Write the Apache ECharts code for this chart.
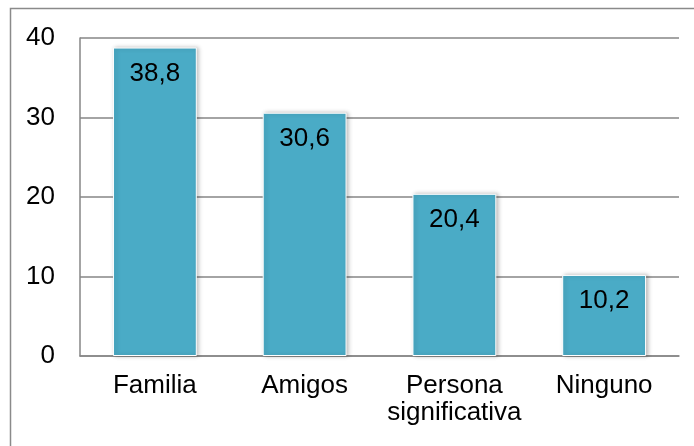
<!DOCTYPE html>
<html>
<head>
<meta charset="utf-8">
<style>
  html, body { margin: 0; padding: 0; background: #fff; }
  #chart { width: 694px; height: 446px; }
</style>
<script src="https://cdn.jsdelivr.net/npm/echarts@6/dist/echarts.min.js"></script>
</head>
<body>
<div id="chart"></div>
<script>
// Categories and percentages
const categories = ['Familia', 'Amigos', 'Persona\nsignificativa', 'Ninguno'];
const values = [38.8, 30.6, 20.4, 10.2];
const yTicks = [0, 10, 20, 30, 40];

const chart = echarts.init(document.getElementById('chart'));
const fontFamily = '"Liberation Sans", Arial, sans-serif';

chart.setOption({
  animation: false,
  backgroundColor: '#ffffff',
  graphic: [{
    type: 'rect',
    shape: { x: 10.5, y: 8.5, width: 700, height: 460 },
    style: { fill: 'none', stroke: '#8a8a8a', lineWidth: 1.5 },
    silent: true
  }],
  grid: { left: 80, right: 15, top: 38, bottom: 90, containLabel: false },
  xAxis: {
    type: 'category',
    data: categories,
    axisLine: { show: true, lineStyle: { color: '#868686', width: 1.5 } },
    axisTick: { show: false },
    axisLabel: {
      interval: 0,
      color: '#000', fontSize: 26, fontFamily: fontFamily,
      margin: 16, lineHeight: 27
    }
  },
  yAxis: {
    type: 'value',
    min: yTicks[0],
    max: yTicks[yTicks.length - 1],
    interval: 10,
    axisLine: { show: true, lineStyle: { color: '#868686', width: 1.5 } },
    axisTick: { show: false },
    splitLine: { show: true, lineStyle: { color: '#868686', width: 1.5 } },
    axisLabel: { color: '#000', fontSize: 26, fontFamily: fontFamily, margin: 25 }
  },
  series: [{
    type: 'bar',
    data: values,
    barWidth: '56%',
    itemStyle: {
      color: '#4aabc6',
      borderColor: '#ffffff',
      borderWidth: 1,
      shadowColor: 'rgba(0,0,0,0.25)',
      shadowBlur: 4,
      shadowOffsetX: 2,
      shadowOffsetY: 0
    },
    label: {
      show: true,
      position: 'insideTop',
      distance: 13,
      color: '#000',
      fontSize: 26,
      fontFamily: fontFamily,
      formatter: p => String(p.value).replace('.', ',')
    }
  }]
});
</script>
</body>
</html>
